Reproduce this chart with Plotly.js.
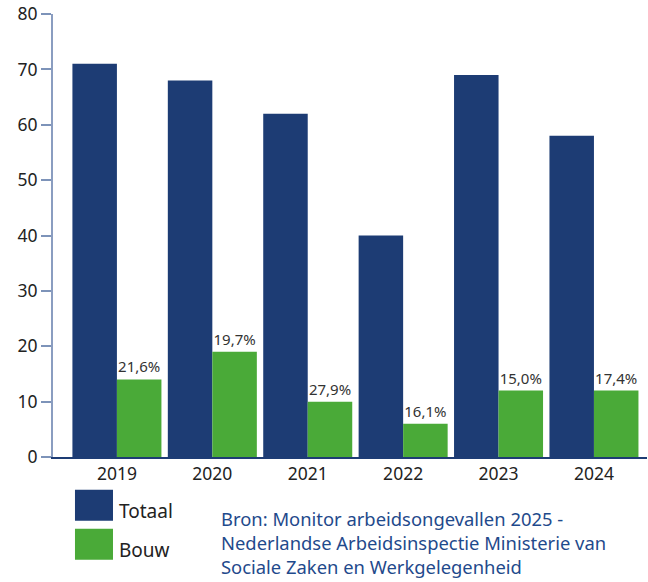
<!DOCTYPE html>
<html>
<head>
<meta charset="utf-8">
<script src="https://cdn.plot.ly/plotly-3.0.1.min.js"></script>
<style>html,body{margin:0;padding:0;background:#fff;}#chart{width:648px;height:582px;}</style>
</head>
<body>
<div id="chart"></div>
<script>
const years = ['2019', '2020', '2021', '2022', '2023', '2024'];
const totaal = [71, 68, 62, 40, 69, 58];
const bouw = [14, 19, 10, 6, 12, 12];
const bouwLabels = ['21,6%', '19,7%', '27,9%', '16,1%', '15,0%', '17,4%'];
const seriesNames = ['Totaal', 'Bouw'];
const yTicks = [0, 10, 20, 30, 40, 50, 60, 70, 80];
const sourceText = 'Bron: Monitor arbeidsongevallen 2025 -<br>Nederlandse Arbeidsinspectie Ministerie van<br>Sociale Zaken en Werkgelegenheid';

const navy = '#1d3c74';
const green = '#4aaa38';
const font = '"Noto Sans", "Open Sans", sans-serif';

const traces = [
  {type: 'bar', x: years, y: totaal, name: seriesNames[0], marker: {color: navy}, hoverinfo: 'skip'},
  {type: 'bar', x: years, y: bouw, name: seriesNames[1], marker: {color: green},
   text: bouwLabels, textposition: 'outside', cliponaxis: false,
   textfont: {family: font, size: 15, color: '#333333'}, hoverinfo: 'skip'}
];

const layout = {
  width: 648, height: 582,
  margin: {l: 53, r: 1, t: 14, b: 125},
  paper_bgcolor: '#ffffff', plot_bgcolor: '#ffffff',
  barmode: 'group', bargap: 0.067, bargroupgap: 0,
  showlegend: false,
  font: {family: font, color: '#222222'},
  xaxis: {
    type: 'category', range: [-0.67, 5.556],
    showline: true, linecolor: navy, linewidth: 2,
    ticks: '', showgrid: false, zeroline: false,
    tickfont: {family: font, size: 17.5, color: '#222222'}
  },
  yaxis: {
    range: [0, 80], tickvals: yTicks,
    showline: true, linecolor: '#8a9dc0', linewidth: 2,
    ticks: 'outside', ticklen: 10, tickwidth: 2, tickcolor: '#7d93b9',
    showgrid: false, zeroline: false,
    tickfont: {family: font, size: 17.5, color: '#222222'}
  },
  shapes: [
    {type: 'rect', xref: 'paper', yref: 'paper', x0: 0.037, x1: 0.101, y0: -0.144, y1: -0.074, fillcolor: navy, line: {width: 0}},
    {type: 'rect', xref: 'paper', yref: 'paper', x0: 0.037, x1: 0.101, y0: -0.232, y1: -0.162, fillcolor: green, line: {width: 0}}
  ],
  annotations: [
    {xref: 'paper', yref: 'paper', x: 0.108, y: -0.123, xanchor: 'left', yanchor: 'middle', text: seriesNames[0], showarrow: false, font: {family: font, size: 19, color: '#222222'}},
    {xref: 'paper', yref: 'paper', x: 0.108, y: -0.211, xanchor: 'left', yanchor: 'middle', text: seriesNames[1], showarrow: false, font: {family: font, size: 19, color: '#222222'}},
    {xref: 'paper', yref: 'paper', x: 0.279, y: -0.106, xanchor: 'left', yanchor: 'top', align: 'left', text: sourceText, showarrow: false, font: {family: font, size: 18.4, color: '#1f4a8c'}}
  ]
};

Plotly.newPlot('chart', traces, layout, {displayModeBar: false, staticPlot: true});
</script>
</body>
</html>
